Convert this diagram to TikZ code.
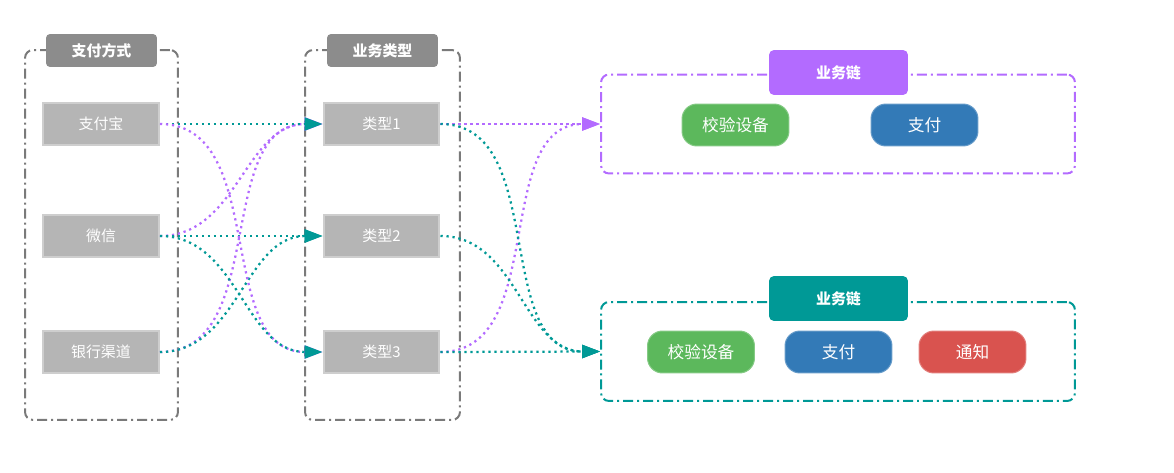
\documentclass[tikz,border=0pt]{standalone}
\usepackage{fontspec}
\setmainfont{Noto Sans CJK SC}
\usepackage{tikz}
\usetikzlibrary{arrows.meta}

\definecolor{boxgray}{RGB}{122,122,122}
\definecolor{titlegray}{RGB}{140,140,140}
\definecolor{itemgray}{RGB}{181,181,181}
\definecolor{itemline}{RGB}{206,206,206}
\definecolor{chainpurple}{RGB}{179,107,255}
\definecolor{chainteal}{RGB}{0,153,150}
\definecolor{stepgreen}{RGB}{92,184,92}
\definecolor{stepblue}{RGB}{51,122,183}
\definecolor{stepred}{RGB}{217,83,79}

\tikzset{
	dashdot line/.style = {line width = 0.04cm, dash pattern = on 0.2cm off 0.08cm on 0.04cm off 0.08cm},
	groupbox/.style = {draw = boxgray, dashdot line, rounded corners = 0.16cm, minimum height = 7.4cm},
	grouptitle/.style = {fill = titlegray, rounded corners = 0.08cm, minimum width = 2.22cm, minimum height = 0.66cm, text = white, font = \fontsize{8.5}{10}\selectfont\bfseries},
	item/.style = {fill = itemgray, draw = itemline, line width = 0.04cm, minimum width = 2.32cm, minimum height = 0.84cm, text = white, font = \fontsize{8.5}{10}\selectfont},
	chainbox/.style = {draw = #1, dashdot line, rounded corners = 0.16cm, minimum width = 9.48cm, minimum height = 1.98cm},
	chaintitle/.style = {fill = #1, rounded corners = 0.1cm, minimum width = 2.78cm, minimum height = 0.9cm, text = white, font = \fontsize{8.5}{10}\selectfont\bfseries},
	pill/.style = {fill = #1, draw = #1!75!white, line width = 0.02cm, rounded corners = 0.3cm, minimum width = 2.14cm, minimum height = 0.84cm, text = white, font = \fontsize{9.5}{11}\selectfont},
	flow/.style = {draw = #1, line width = 0.045cm, dash pattern = on 0.045cm off 0.075cm, -{Triangle[length = 0.36cm, width = 0.26cm]}}
}

\begin{document}
\begin{tikzpicture}[x = 0.02cm, y = -0.02cm]
		\useasboundingbox (0, 0) rectangle (1174, 473);

		\node[groupbox, minimum width = 3.06cm] (g1) at (101.5, 235) {};
		\node[groupbox, minimum width = 3.1cm] (g2) at (382.5, 235) {};
		\node[grouptitle] (t1) at (101.5, 50.5) {支付方式};
		\node[grouptitle] (t2) at (382.5, 50.5) {业务类型};

		\node[item] (1) at (101, 124) {支付宝};
		\node[item] (2) at (101, 236) {微信};
		\node[item] (3) at (101, 352) {银行渠道};
		\node[item] (4) at (381.5, 124) {类型1};
		\node[item] (5) at (381.5, 236) {类型2};
		\node[item] (6) at (381.5, 352) {类型3};

		\node[chainbox = chainpurple] (c1) at (838, 124) {};
		\node[chaintitle = chainpurple] (ct1) at (838.5, 72.5) {业务链};
		\node[pill = stepgreen] (7) at (735.5, 125) {校验设备};
		\node[pill = stepblue] (8) at (924.5, 125) {支付};

		\node[chainbox = chainteal] (c2) at (838, 351.5) {};
		\node[chaintitle = chainteal] (ct2) at (838.5, 298.5) {业务链};
		\node[pill = stepgreen] (9) at (701, 352) {校验设备};
		\node[pill = stepblue] (10) at (838.5, 352) {支付};
		\node[pill = stepred] (11) at (972.5, 352) {通知};

		\path[flow = chainpurple] (2.east) to[out = 0, in = 180] (4.west);
		\path[flow = chainpurple] (3.east) to[out = 0, in = 180] (4.west);
		\path[flow = chainteal] (1.east) -- (4.west);
		\path[flow = chainteal] (3.east) to[out = 0, in = 180] (5.west);
		\path[flow = chainteal] (2.east) -- (5.west);
		\path[flow = chainpurple] (1.east) to[out = 0, in = 180] (6.west);
		\path[flow = chainteal] (2.east) to[out = 0, in = 180] (6.west);

		\path[flow = chainpurple] (6.east) to[out = 0, in = 180] (c1.west);
		\path[flow = chainpurple] (4.east) -- (c1.west);
		\path[flow = chainteal] (4.east) to[out = 0, in = 180] (c2.west);
		\path[flow = chainteal] (5.east) to[out = 0, in = 180] (c2.west);
		\path[flow = chainteal] (6.east) -- (c2.west);
	\end{tikzpicture}
\end{document}
